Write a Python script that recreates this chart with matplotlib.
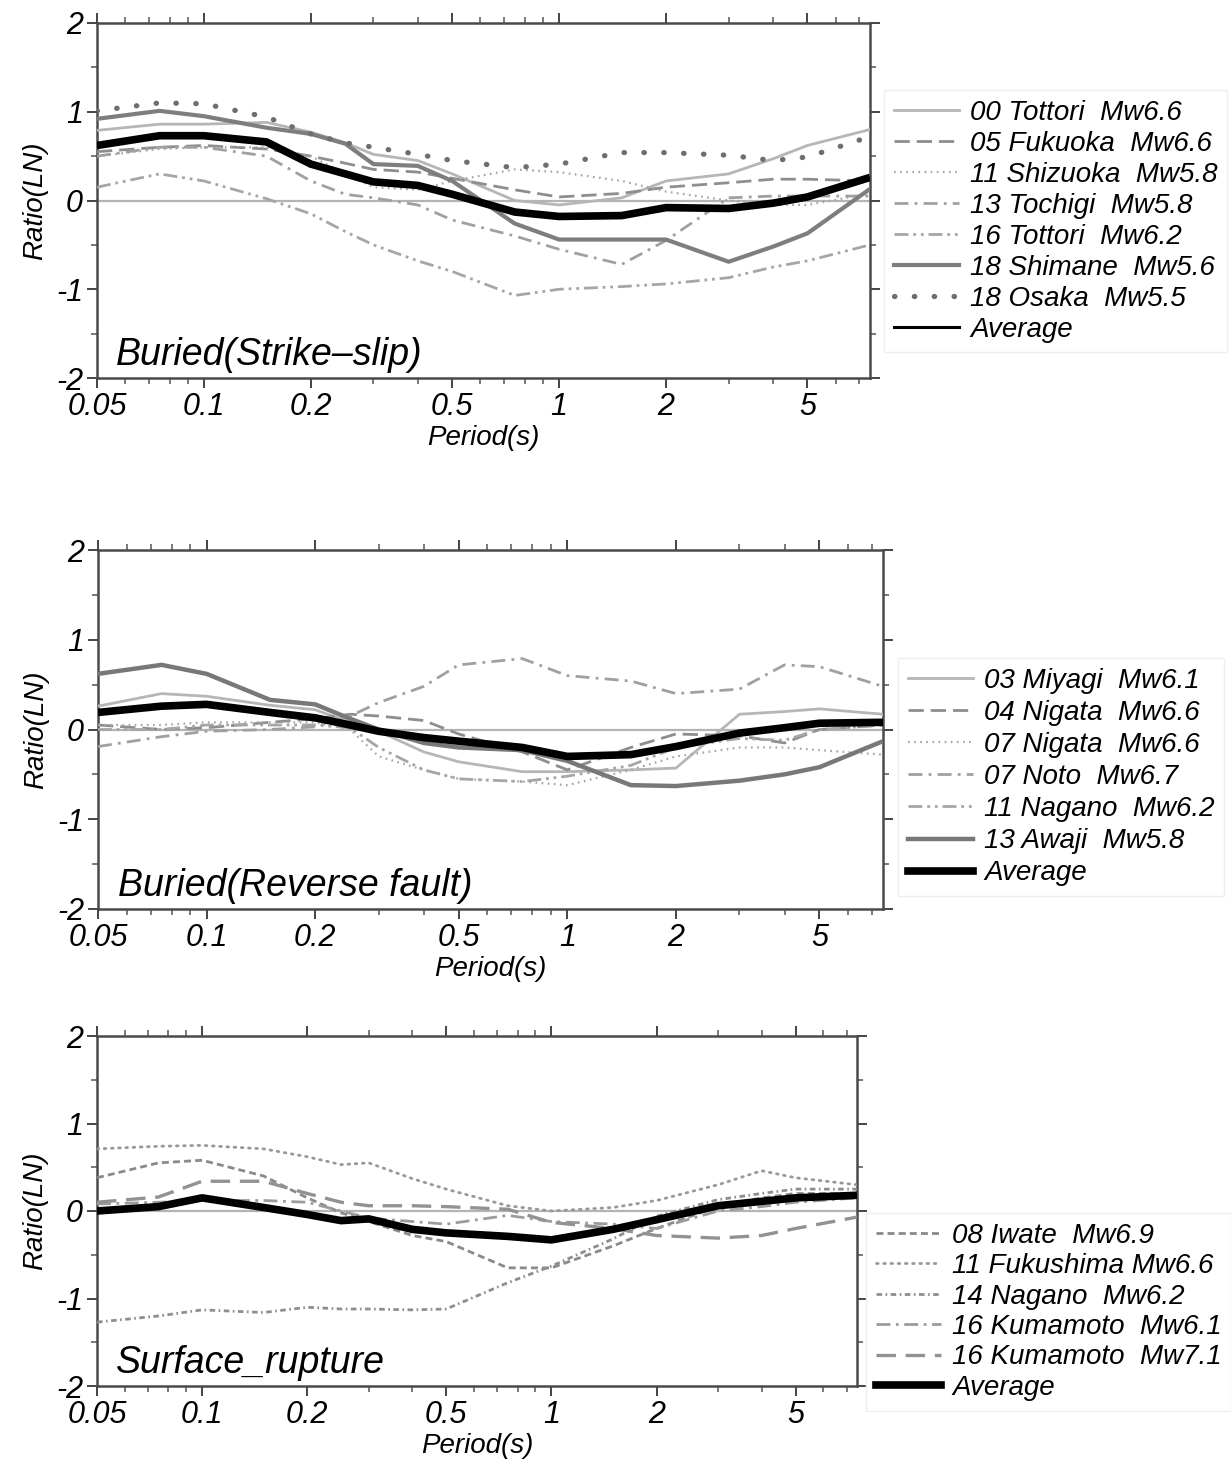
import matplotlib
matplotlib.use('Agg')
import matplotlib.pyplot as plt
from matplotlib.lines import Line2D

plt.rcParams['font.family'] = ['Liberation Sans', 'DejaVu Sans']
plt.rcParams['font.style'] = 'italic'
plt.rcParams['lines.scale_dashes'] = False

# ---------------- data ----------------
periods = [0.05, 0.075, 0.1, 0.15, 0.2, 0.25, 0.3, 0.4, 0.5, 0.75, 1.0, 1.5, 2.0, 3.0, 4.0, 5.0, 7.5]

# Panel 1: Buried (Strike-slip)
ss_labels = ["00 Tottori  Mw6.6", "05 Fukuoka  Mw6.6", "11 Shizuoka  Mw5.8", "13 Tochigi  Mw5.8",
             "16 Tottori  Mw6.2", "18 Shimane  Mw5.6", "18 Osaka  Mw5.5", "Average"]
ss_tottori00 = [0.79, 0.86, 0.86, 0.88, 0.77, 0.65, 0.52, 0.45, 0.30, 0.00, -0.05, 0.03, 0.22, 0.30, 0.47, 0.62, 0.80]
ss_fukuoka05 = [0.55, 0.60, 0.62, 0.58, 0.50, 0.42, 0.35, 0.32, 0.25, 0.12, 0.04, 0.08, 0.15, 0.20, 0.24, 0.24, 0.22]
ss_shizuoka11 = [0.50, 0.58, 0.60, 0.60, 0.50, 0.30, 0.15, 0.12, 0.22, 0.35, 0.32, 0.22, 0.10, 0.00, -0.05, -0.05, 0.08]
ss_tochigi13 = [0.50, 0.60, 0.60, 0.50, 0.22, 0.07, 0.03, -0.05, -0.22, -0.40, -0.55, -0.72, -0.45, 0.03, 0.05, 0.05, 0.05]
ss_tottori16 = [0.15, 0.30, 0.22, 0.02, -0.15, -0.35, -0.50, -0.68, -0.80, -1.07, -1.00, -0.97, -0.94, -0.87, -0.75, -0.68, -0.50]
ss_shimane18 = [0.92, 1.01, 0.95, 0.82, 0.75, 0.64, 0.41, 0.39, 0.22, -0.26, -0.44, -0.44, -0.44, -0.69, -0.52, -0.37, 0.13]
ss_osaka18 = [1.01, 1.10, 1.09, 0.94, 0.75, 0.65, 0.60, 0.52, 0.45, 0.37, 0.41, 0.54, 0.54, 0.51, 0.45, 0.49, 0.72]
ss_average = [0.62, 0.73, 0.73, 0.66, 0.41, 0.30, 0.21, 0.17, 0.07, -0.13, -0.18, -0.17, -0.08, -0.09, -0.03, 0.04, 0.26]

# Panel 2: Buried (Reverse fault)
rv_labels = ["03 Miyagi  Mw6.1", "04 Nigata  Mw6.6", "07 Nigata  Mw6.6", "07 Noto  Mw6.7",
             "11 Nagano  Mw6.2", "13 Awaji  Mw5.8", "Average"]
rv_miyagi03 = [0.26, 0.40, 0.37, 0.27, 0.22, 0.08, -0.02, -0.25, -0.36, -0.47, -0.47, -0.45, -0.43, 0.17, 0.20, 0.23, 0.17]
rv_nigata04 = [0.05, 0.00, 0.02, 0.08, 0.12, 0.17, 0.15, 0.10, -0.05, -0.25, -0.45, -0.20, -0.05, -0.07, -0.15, 0.00, 0.05]
rv_nigata07 = [0.05, 0.05, 0.08, 0.08, 0.08, 0.00, -0.30, -0.45, -0.55, -0.58, -0.62, -0.45, -0.30, -0.20, -0.20, -0.23, -0.28]
rv_noto07 = [-0.19, -0.08, -0.02, 0.00, 0.03, 0.15, 0.30, 0.48, 0.72, 0.79, 0.60, 0.54, 0.40, 0.45, 0.72, 0.70, 0.48]
rv_nagano11 = [0.00, 0.00, 0.05, 0.05, 0.05, 0.02, -0.20, -0.45, -0.55, -0.58, -0.52, -0.40, -0.20, -0.10, -0.12, 0.00, 0.05]
rv_awaji13 = [0.62, 0.72, 0.62, 0.33, 0.28, 0.12, 0.00, -0.15, -0.20, -0.23, -0.35, -0.62, -0.63, -0.57, -0.50, -0.42, -0.13]
rv_average = [0.19, 0.26, 0.28, 0.19, 0.13, 0.05, -0.02, -0.09, -0.13, -0.20, -0.30, -0.28, -0.19, -0.04, 0.02, 0.07, 0.08]

# Panel 3: Surface rupture
sr_labels = ["08 Iwate  Mw6.9", "11 Fukushima Mw6.6", "14 Nagano  Mw6.2", "16 Kumamoto  Mw6.1",
             "16 Kumamoto  Mw7.1", "Average"]
sr_iwate08 = [0.38, 0.55, 0.58, 0.40, 0.15, -0.02, -0.12, -0.28, -0.35, -0.65, -0.65, -0.40, -0.20, 0.05, 0.15, 0.20, 0.20]
sr_fukushima11 = [0.71, 0.74, 0.75, 0.71, 0.62, 0.53, 0.55, 0.37, 0.25, 0.06, 0.00, 0.04, 0.12, 0.30, 0.46, 0.38, 0.30]
sr_nagano14 = [-1.27, -1.20, -1.13, -1.16, -1.10, -1.12, -1.12, -1.13, -1.12, -0.82, -0.63, -0.32, -0.06, 0.13, 0.20, 0.25, 0.25]
sr_kumamoto61 = [0.08, 0.10, 0.12, 0.12, 0.10, 0.00, -0.08, -0.12, -0.15, -0.05, -0.12, -0.15, -0.20, 0.00, 0.05, 0.10, 0.15]
sr_kumamoto71 = [0.10, 0.16, 0.34, 0.34, 0.20, 0.10, 0.06, 0.06, 0.05, 0.02, -0.13, -0.20, -0.28, -0.31, -0.28, -0.20, -0.07]
sr_average = [0.00, 0.05, 0.15, 0.04, -0.04, -0.11, -0.09, -0.21, -0.25, -0.29, -0.33, -0.21, -0.10, 0.06, 0.11, 0.15, 0.18]

panel_titles = ["Buried(Strike\u2013slip)", "Buried(Reverse fault)", "Surface_rupture"]
xtick_vals = [0.05, 0.1, 0.2, 0.5, 1, 2, 5]
xtick_labels = ["0.05", "0.1", "0.2", "0.5", "1", "2", "5"]
xminor_vals = [0.06, 0.07, 0.08, 0.09, 0.3, 0.4, 0.6, 0.7, 0.8, 0.9, 3, 4, 6, 7]
ytick_vals = [-2, -1, 0, 1, 2]
ytick_labels = ["-2", "-1", "0", "1", "2"]

# ---------------- styles ----------------
S_LIGHT = dict(color='#b6b6b6', lw=2.0, ls='-')
S_DASH = dict(color='#8e8e8e', lw=2.0, ls=(0, (11, 5)))
S_DOT = dict(color='#a4a4a4', lw=1.6, ls=(0, (1.2, 3.2)))
S_DASHDOT = dict(color='#a0a0a0', lw=2.0, ls=(0, (10, 4.5, 2, 4.5)))
S_DASHDOTDOT = dict(color='#a6a6a6', lw=2.0, ls=(0, (10, 3.5, 2, 3.5, 2, 3.5)))
S_MIDSOLID = dict(color='#7e7e7e', lw=3.0, ls='-')
S_BIGDOT = dict(color='#6e6e6e', lw=3.8, ls=(0, (0.3, 14)), dash_capstyle='round')
S_AVG = dict(color='black', lw=5.5, ls='-', solid_capstyle='butt')

W, H = 1231, 1463
fig = plt.figure(figsize=(W / 100, H / 100), dpi=100)
fig.patch.set_facecolor('white')

FS_TICK = 22
FS_LABEL = 20
FS_TITLE = 27
FS_LEG = 20


def make_ax(l, r, t, b):
    return fig.add_axes([l / W, 1 - b / H, (r - l) / W, (b - t) / H])


ax1 = make_ax(97, 870, 23, 378)
ax2 = make_ax(98, 883, 550, 909)
ax3 = make_ax(97, 857, 1036, 1386)


def style_axes(ax, title):
    ax.set_xscale('log')
    ax.set_xlim(0.05, 7.5)
    ax.set_ylim(-2, 2)
    ax.axhline(0, color='#b4b4b4', lw=1.6, zorder=1)
    ax.set_xticks(xtick_vals)
    ax.set_xticklabels(xtick_labels)
    ax.set_xticks(xminor_vals, minor=True)
    ax.set_xticklabels([], minor=True)
    ax.set_yticks(ytick_vals)
    ax.set_yticklabels(ytick_labels)
    ax.set_yticks([-1.5, -0.5, 0.5, 1.5], minor=True)
    ax.tick_params(axis='both', which='major', direction='out', length=7, width=1.4,
                   color='#444444', labelsize=FS_TICK, pad=3, top=True, right=True)
    ax.tick_params(axis='both', which='minor', direction='out', length=4, width=1.1,
                   color='#555555', top=True, right=True)
    for sp in ax.spines.values():
        sp.set_color('#4a4a4a')
        sp.set_linewidth(1.8)
    ax.set_xlabel("Period(s)", fontsize=FS_LABEL, labelpad=2)
    ax.set_ylabel("Ratio(LN)", fontsize=FS_LABEL, labelpad=6)
    ax.text(0.025, 0.015, title, transform=ax.transAxes, fontsize=FS_TITLE, ha='left', va='bottom')


def plot_series(ax, series, styles):
    for y, st in zip(series, styles):
        ax.plot(periods, y, zorder=3, **st)


def add_legend(ax, labels, styles, x, y, avg_lw, spacing):
    handles = []
    for st in styles[:-1]:
        handles.append(Line2D([], [], **st))
    handles.append(Line2D([], [], color='black', lw=avg_lw))
    leg = ax.legend(handles, labels, loc='upper left', bbox_to_anchor=(x / W, 1 - y / H),
                    bbox_transform=fig.transFigure, fontsize=FS_LEG, handlelength=2.35,
                    handletextpad=0.4, labelspacing=spacing, borderpad=0.35, borderaxespad=0,
                    frameon=True, fancybox=False, edgecolor='#eeeeee', framealpha=1)
    leg.get_frame().set_linewidth(1.0)
    return leg


# Panel 1
st1 = [S_LIGHT, S_DASH, S_DOT, S_DASHDOT, S_DASHDOTDOT, S_MIDSOLID, S_BIGDOT, S_AVG]
plot_series(ax1, [ss_tottori00, ss_fukuoka05, ss_shizuoka11, ss_tochigi13, ss_tottori16,
                  ss_shimane18, ss_osaka18, ss_average], st1)
style_axes(ax1, panel_titles[0])
add_legend(ax1, ss_labels, st1, 884, 90, 2.2, 0.18)

# Panel 2
st2 = [dict(S_LIGHT), dict(S_DASH), dict(S_DOT), dict(S_DASHDOT), dict(S_DASHDOTDOT),
       dict(color='#787878', lw=3.2, ls='-'), S_AVG]
plot_series(ax2, [rv_miyagi03, rv_nigata04, rv_nigata07, rv_noto07, rv_nagano11, rv_awaji13, rv_average], st2)
style_axes(ax2, panel_titles[1])
add_legend(ax2, rv_labels, st2, 898, 658, 5.5, 0.22)

# Panel 3
st3 = [dict(color='#8a8a8a', lw=2.0, ls=(0, (5, 3))),
       dict(color='#989898', lw=2.0, ls=(0, (1.2, 4)), dash_capstyle='round'),
       dict(color='#8e8e8e', lw=2.0, ls=(0, (4, 2.5, 1.2, 2.5))),
       dict(color='#9c9c9c', lw=2.0, ls=(0, (10, 4, 2, 4))),
       dict(color='#929292', lw=2.4, ls=(0, (14, 7))),
       S_AVG]
plot_series(ax3, [sr_iwate08, sr_fukushima11, sr_nagano14, sr_kumamoto61, sr_kumamoto71, sr_average], st3)
style_axes(ax3, panel_titles[2])
add_legend(ax3, sr_labels, st3, 866, 1213, 5.5, 0.16)

fig.savefig('out.png', dpi=100, facecolor='white')
